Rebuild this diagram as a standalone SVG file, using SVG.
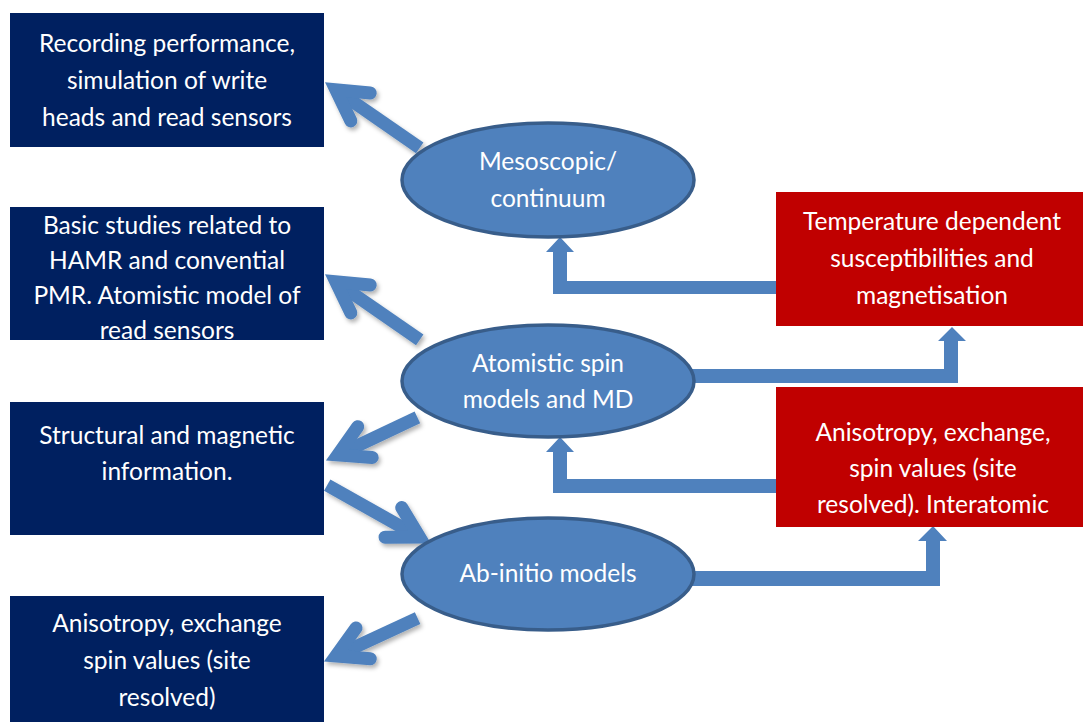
<svg xmlns="http://www.w3.org/2000/svg" width="1083" height="722" viewBox="0 0 1083 722">
<style>
.navy{fill:#002060}
.red{fill:#C00000}
.ell{fill:#4F81BD;stroke:#385D8A;stroke-width:3.5}
.t{font-family:Lato,"Open Sans",sans-serif;font-size:24.5px;fill:#ffffff;text-anchor:middle}
.conn{fill:#4F81BD}
.shaft{fill:none;stroke:#4F81BD;stroke-width:13;stroke-linecap:butt}
.wing{fill:none;stroke:#4F81BD;stroke-width:13;stroke-linecap:round;stroke-linejoin:miter}
</style>
<defs>
<filter id="sh" x="-20%" y="-20%" width="140%" height="140%">
<feDropShadow dx="2" dy="3" stdDeviation="2" flood-color="#000" flood-opacity="0.3"/>
</filter>
<clipPath id="c2"><rect x="10" y="207" width="314" height="133"/></clipPath>
</defs>
<g id="connectors">
<g filter="url(#sh)">
<g transform="translate(326,83) rotate(214.7)"><path class="shaft" d="M-114,0 L-14,0"/><path class="wing" d="M-42,-17 L-12,0 L-42,17"/></g>
<g transform="translate(326,275) rotate(214.7)"><path class="shaft" d="M-114,0 L-14,0"/><path class="wing" d="M-42,-17 L-12,0 L-42,17"/></g>
<g transform="translate(327,460) rotate(154.7)"><path class="shaft" d="M-100,0 L-14,0"/><path class="wing" d="M-42,-17 L-12,0 L-42,17"/></g>
<g transform="translate(430,543) rotate(29.4)"><path class="shaft" d="M-118,0 L-14,0"/><path class="wing" d="M-42,-17 L-12,0 L-42,17"/></g>
<g transform="translate(325,661) rotate(155.2)"><path class="shaft" d="M-102,0 L-14,0"/><path class="wing" d="M-42,-17 L-12,0 L-42,17"/></g>
</g>
<polygon class="conn" points="778,281 567,281 567,252 574,252 560,237 546,252 553,252 553,294 778,294"/>
<polygon class="conn" points="778,479 567,479 567,452 574,452 560,437 546,452 553,452 553,493 778,493"/>
<polygon class="conn" points="690,369 944,369 944,341 938,341 952,327 966,341 958,341 958,383 690,383"/>
<polygon class="conn" points="690,571 926,571 926,541 918,541 933,526 947,541 940,541 940,586 690,586"/>
</g>
<g id="box-recording">
<rect class="navy" x="10" y="13" width="314" height="134"/>
<text class="t" x="167" y="52">Recording performance,</text>
<text class="t" x="167" y="89">simulation of write</text>
<text class="t" x="167" y="126">heads and read sensors</text>
</g>
<g id="box-basic">
<rect class="navy" x="10" y="207" width="314" height="133"/>
<g clip-path="url(#c2)">
<text class="t" x="167" y="234">Basic studies related to</text>
<text class="t" x="167" y="269">HAMR and convential</text>
<text class="t" x="167" y="304">PMR. Atomistic model of</text>
<text class="t" x="167" y="339">read sensors</text>
</g>
</g>
<g id="box-structural">
<rect class="navy" x="10" y="402" width="314" height="133"/>
<text class="t" x="167" y="444">Structural and magnetic</text>
<text class="t" x="167" y="480">information.</text>
</g>
<g id="box-anisotropy-left">
<rect class="navy" x="10" y="596" width="314" height="126"/>
<text class="t" x="167" y="632">Anisotropy, exchange</text>
<text class="t" x="167" y="669">spin values (site</text>
<text class="t" x="167" y="706">resolved)</text>
</g>
<g id="box-temperature">
<rect class="red" x="776" y="192" width="307" height="134"/>
<text class="t" x="932" y="230">Temperature dependent</text>
<text class="t" x="932" y="267">susceptibilities and</text>
<text class="t" x="932" y="304">magnetisation</text>
</g>
<g id="box-anisotropy-right">
<rect class="red" x="776" y="387" width="307" height="140"/>
<text class="t" x="933" y="441">Anisotropy, exchange,</text>
<text class="t" x="933" y="477">spin values (site</text>
<text class="t" x="933" y="513">resolved). Interatomic</text>
</g>
<g id="ell-mesoscopic">
<ellipse class="ell" cx="548" cy="180" rx="146" ry="57"/>
<text class="t" x="548" y="170">Mesoscopic/</text>
<text class="t" x="548" y="207">continuum</text>
</g>
<g id="ell-atomistic">
<ellipse class="ell" cx="548" cy="381" rx="146" ry="56"/>
<text class="t" x="548" y="372">Atomistic spin</text>
<text class="t" x="548" y="408">models and MD</text>
</g>
<g id="ell-abinitio">
<ellipse class="ell" cx="548" cy="574" rx="146" ry="56"/>
<text class="t" x="548" y="582">Ab-initio models</text>
</g>
</svg>
